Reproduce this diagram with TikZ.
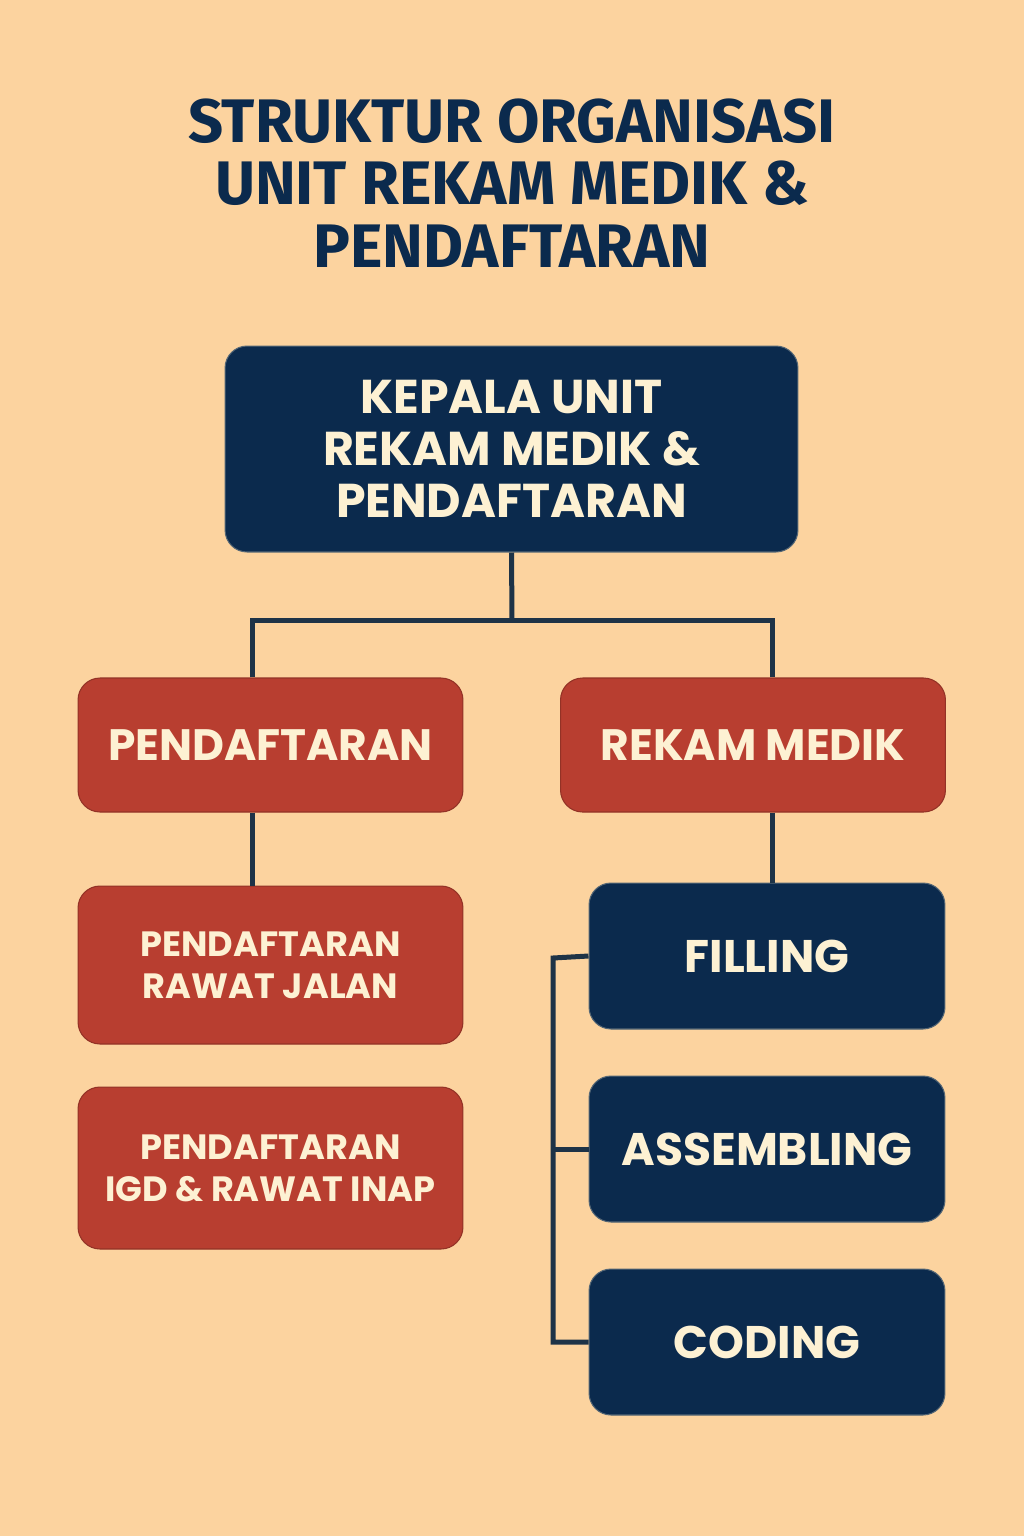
\documentclass[tikz,border=0pt]{standalone}
\usepackage{fontspec}
\usepackage{xcolor}
\usepackage{tikz}
\newfontfamily\titlefont{Fira Sans}
\newfontfamily\boxfont{Poppins}
\definecolor{bgpeach}{HTML}{FCD39F}
\definecolor{navy}{HTML}{0B2A4D}
\definecolor{brick}{HTML}{B83E30}
\definecolor{cream}{HTML}{FDF1D3}
\definecolor{wire}{HTML}{1E3347}

\begin{document}
\begin{tikzpicture}[x=0.02cm,y=-0.02cm,line width=0.1cm]
\tikzset{
  unit/.style={rounded corners=0.44cm,text=cream,align=center,inner sep=0pt,
    font=\boxfont\bfseries},
  bluebox/.style={unit,fill=navy,draw=navy!70!cream,line width=0.6pt},
  redbox/.style={unit,fill=brick,draw=brick!80!black,line width=0.6pt},
  link/.style={draw=wire,line width=0.1cm}
}
\fill[bgpeach] (0,0) rectangle (1024,1536);
\useasboundingbox (0,0) rectangle (1024,1536);
\node[text=navy,align=center,font=\titlefont\bfseries\fontsize{35}{35.5}\selectfont] (title) at (512,183)
  {STRUKTUR ORGANISASI\\UNIT REKAM MEDIK \&\\PENDAFTARAN};
\node[bluebox,minimum width=11.46cm,minimum height=4.12cm,
  font=\boxfont\bfseries\fontsize{27}{29.6}\selectfont] (kepala) at (511.5,449)
  {KEPALA UNIT\\REKAM MEDIK \&\\PENDAFTARAN};
\node[redbox,minimum width=7.7cm,minimum height=2.68cm,
  font=\boxfont\bfseries\fontsize{25}{30}\selectfont] (daftar) at (270.5,745) {PENDAFTARAN};
\node[redbox,minimum width=7.7cm,minimum height=2.68cm,
  font=\boxfont\bfseries\fontsize{25}{30}\selectfont] (rekam) at (753,745) {REKAM MEDIK};
\node[redbox,minimum width=7.7cm,minimum height=3.16cm,
  font=\boxfont\bfseries\fontsize{20}{23.8}\selectfont] (rajal) at (270.5,965)
  {PENDAFTARAN\\RAWAT JALAN};
\node[redbox,minimum width=7.7cm,minimum height=3.24cm,
  font=\boxfont\bfseries\fontsize{20}{23.8}\selectfont] (ranap) at (270.5,1168)
  {PENDAFTARAN\\IGD \& RAWAT INAP};
\node[bluebox,minimum width=7.12cm,minimum height=2.92cm,
  font=\boxfont\bfseries\fontsize{26}{30}\selectfont] (filling) at (767,956) {FILLING};
\node[bluebox,minimum width=7.12cm,minimum height=2.92cm,
  font=\boxfont\bfseries\fontsize{26}{30}\selectfont] (assembling) at (767,1149) {ASSEMBLING};
\node[bluebox,minimum width=7.12cm,minimum height=2.92cm,
  font=\boxfont\bfseries\fontsize{26}{30}\selectfont] (coding) at (767,1342) {CODING};
\coordinate (jtop) at (512,620);
\coordinate (jleft) at (252,620);
\coordinate (jright) at (772,620);
\coordinate (rail) at (553,958);
\draw[link] (kepala.south) -- (jtop);
\draw[link] (jleft |- daftar.north) -- (jleft) -- (jright) -- (jright |- rekam.north);
\draw[link] (jleft |- daftar.south) -- (jleft |- rajal.north);
\draw[link] (jright |- rekam.south) -- (jright |- filling.north);
\draw[link] (filling.west) -- (rail) -- (rail |- coding.west) -- (coding.west);
\draw[link] (rail |- assembling.west) -- (assembling.west);
\end{tikzpicture}
\end{document}
